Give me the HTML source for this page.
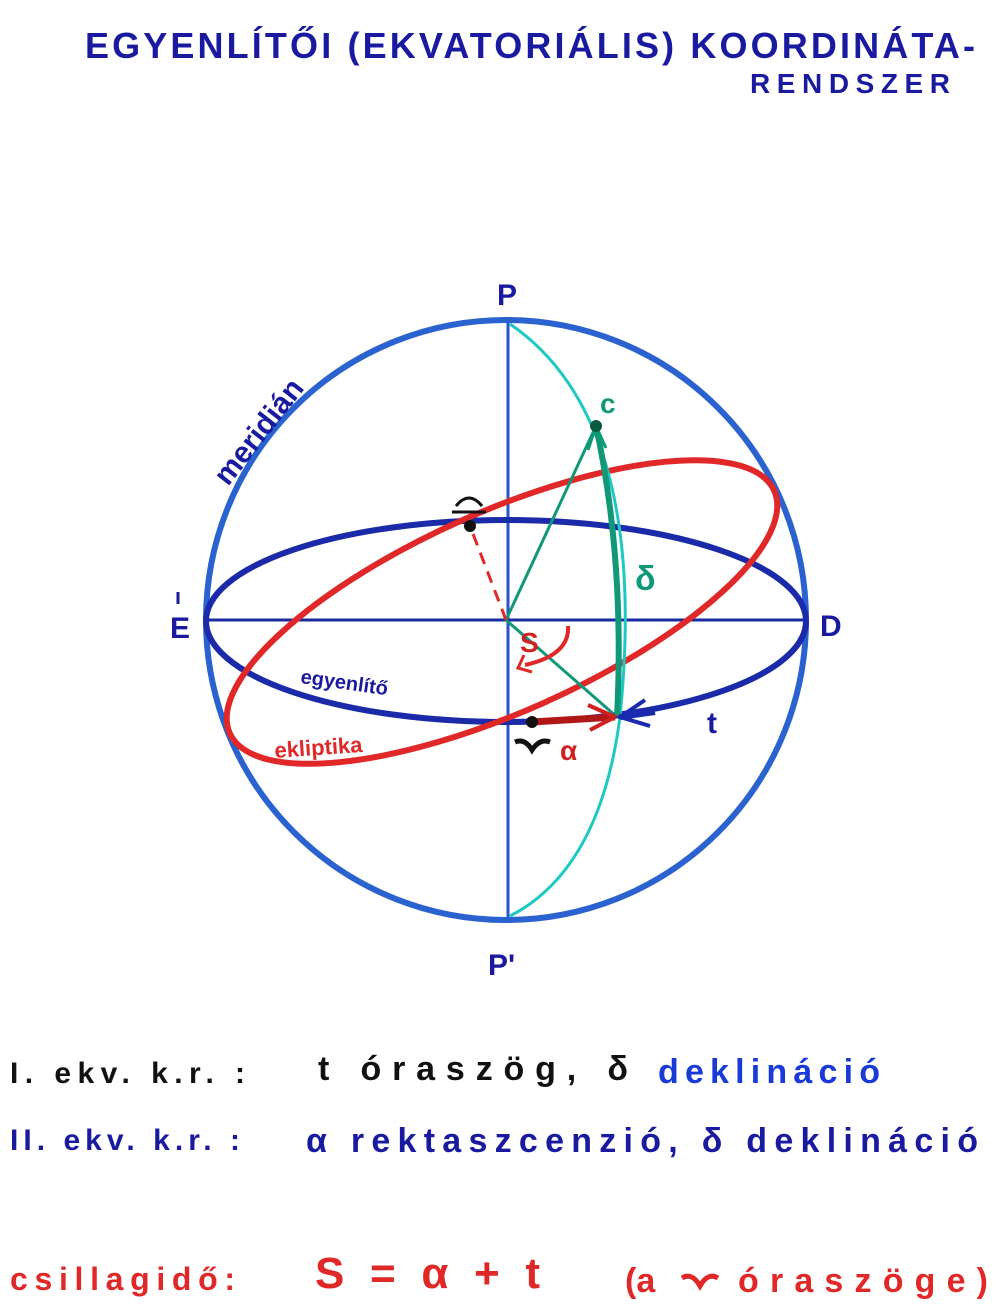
<!DOCTYPE html>
<html><head><style>
html,body{margin:0;padding:0;background:#fff;}
svg{display:block;}
text{font-family:"Liberation Sans",sans-serif;font-weight:bold;}
</style></head><body>
<svg width="996" height="1312" viewBox="0 0 996 1312">
<text x="85" y="58" font-size="36" fill="#1a1aa0" textLength="890" lengthAdjust="spacing">EGYENLÍTŐI (EKVATORIÁLIS) KOORDINÁTA-</text>
<text x="750" y="93" font-size="28" fill="#1a1aa0" textLength="200" lengthAdjust="spacing">RENDSZER</text>

<circle cx="506" cy="620" r="300" fill="none" stroke="#2a62d0" stroke-width="6"/>
<line x1="508" y1="322" x2="508" y2="918" stroke="#2a55c8" stroke-width="3"/>
<line x1="206" y1="620" x2="806" y2="620" stroke="#1a2aa0" stroke-width="3"/>
<ellipse cx="506" cy="621" rx="300" ry="101" fill="none" stroke="#1a2aa8" stroke-width="6"/>
<ellipse cx="502" cy="612" rx="298" ry="100" transform="rotate(-24 502 612)" fill="none" stroke="#e02828" stroke-width="6"/>

<path d="M510 324 Q650 420 620 717 Q600 870 510 916" fill="none" stroke="#1fc8c0" stroke-width="3"/>
<path d="M617 717 Q625 560 596 426" fill="none" stroke="#109878" stroke-width="6"/>
<path d="M588 450 L596 426 L606 448" fill="none" stroke="#109878" stroke-width="3"/>
<line x1="506" y1="620" x2="596" y2="426" stroke="#109878" stroke-width="3"/>
<line x1="506" y1="620" x2="617" y2="717" stroke="#109878" stroke-width="3"/>
<circle cx="596" cy="426" r="6" fill="#0a5a40"/>

<line x1="506" y1="620" x2="470" y2="526" stroke="#e02828" stroke-width="3" stroke-dasharray="12,8"/>
<circle cx="470" cy="526" r="6" fill="#111"/>
<path d="M568 626 Q570 655 525 665" fill="none" stroke="#e02828" stroke-width="4"/>
<path d="M524 655 L518 668 L532 672" fill="none" stroke="#e02828" stroke-width="3"/>

<line x1="532" y1="722" x2="615" y2="717" stroke="#b01818" stroke-width="7"/>
<path d="M588 705 L615 717 L590 730" fill="none" stroke="#d02020" stroke-width="4"/>
<line x1="620" y1="717" x2="655" y2="712" stroke="#1a2ab0" stroke-width="6"/>
<path d="M645 700 L620 717 L650 726" fill="none" stroke="#1a2ab0" stroke-width="4"/>
<circle cx="532" cy="722" r="6" fill="#111"/>

<!-- libra symbol -->
<path d="M452 512 L486 512 M456 506 Q469 490 482 506" fill="none" stroke="#111" stroke-width="3"/>
<!-- aries symbol (ram) -->
<path d="M515 742 Q525 738 532 750 Q540 738 550 742" fill="none" stroke="#111" stroke-width="5"/>

<text x="497" y="305" font-size="30" fill="#1a1aa0">P</text>
<text x="488" y="975" font-size="30" fill="#1a1aa0">P'</text>
<text x="170" y="638" font-size="30" fill="#1a1aa0">E</text>
<line x1="178" y1="592" x2="178" y2="604" stroke="#1a1aa0" stroke-width="3"/>
<text x="820" y="636" font-size="30" fill="#1a1aa0">D</text>
<text x="600" y="413" font-size="28" fill="#109878">c</text>
<text x="635" y="590" font-size="34" fill="#109878">δ</text>
<text x="707" y="733" font-size="30" fill="#1a1aa0">t</text>
<text x="520" y="652" font-size="28" fill="#d02020">S</text>
<text x="560" y="760" font-size="28" fill="#d02020">α</text>
<text x="0" y="0" font-size="30" fill="#1a1aa0" transform="translate(228,487) rotate(-52)">meridián</text>
<text x="0" y="0" font-size="20" fill="#1a1aa0" transform="translate(300,683) rotate(8)">egyenlítő</text>
<text x="0" y="0" font-size="22" fill="#e02828" transform="translate(275,758) rotate(-4)">ekliptika</text>

<text x="10" y="1083" font-size="30" fill="#111" textLength="235" lengthAdjust="spacing">I. ekv. k.r. :</text>
<text x="318" y="1080" font-size="34" fill="#111" textLength="310" lengthAdjust="spacing">t óraszög, δ</text>
<text x="658" y="1083" font-size="34" fill="#1a3ad8" textLength="222" lengthAdjust="spacing">deklináció</text>
<text x="10" y="1150" font-size="30" fill="#1a1aa0" textLength="230" lengthAdjust="spacing">II. ekv. k.r. :</text>
<text x="306" y="1152" font-size="34" fill="#1a1aa0" textLength="672" lengthAdjust="spacing">α rektaszcenzió, δ deklináció</text>
<text x="10" y="1290" font-size="32" fill="#e02828" textLength="225" lengthAdjust="spacing">csillagidő:</text>
<text x="315" y="1288" font-size="44" fill="#e02828" textLength="225" lengthAdjust="spacing">S = α + t</text>
<text x="625" y="1292" font-size="34" fill="#e02828">(a</text>
<path d="M682 1278 Q692 1272 700 1286 Q708 1272 718 1278" fill="none" stroke="#e02828" stroke-width="5"/>
<text x="738" y="1292" font-size="34" fill="#e02828" textLength="250" lengthAdjust="spacing">óraszöge)</text>
</svg>
</body></html>
